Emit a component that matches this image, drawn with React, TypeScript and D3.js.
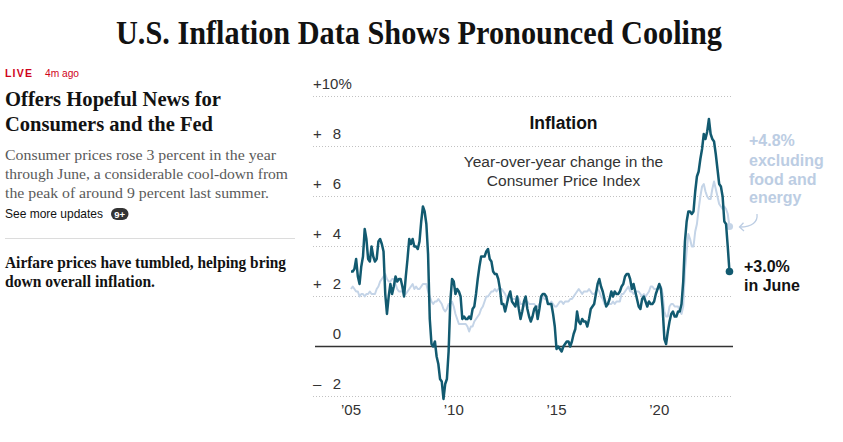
import React from 'react';
import * as d3 from 'd3';

// Monthly year-over-year change in CPI, January 2005 through June 2023
const START_YEAR = 2005;

const cpiAll = [
  3.0, 3.0, 3.1, 3.5, 2.8, 2.5, 3.2, 3.6, 4.7, 4.3, 3.5, 3.4,
  4.0, 3.6, 3.4, 3.5, 4.2, 4.3, 4.1, 3.8, 2.1, 1.3, 2.0, 2.5,
  2.1, 2.4, 2.8, 2.6, 2.7, 2.7, 2.4, 2.0, 2.8, 3.5, 4.3, 4.1,
  4.3, 4.0, 4.0, 3.9, 4.2, 5.0, 5.6, 5.4, 4.9, 3.7, 1.1, 0.1,
  0.0, 0.2, -0.4, -0.7, -1.3, -1.4, -2.1, -1.5, -1.3, -0.2, 1.8, 2.7,
  2.6, 2.1, 2.3, 2.2, 2.0, 1.1, 1.2, 1.1, 1.1, 1.2, 1.1, 1.5,
  1.6, 2.1, 2.7, 3.2, 3.6, 3.6, 3.6, 3.8, 3.9, 3.5, 3.4, 3.0,
  2.9, 2.9, 2.7, 2.3, 1.7, 1.7, 1.4, 1.7, 2.0, 2.2, 1.8, 1.7,
  1.6, 2.0, 1.5, 1.1, 1.4, 1.8, 2.0, 1.5, 1.2, 1.0, 1.2, 1.5,
  1.6, 1.1, 1.5, 2.0, 2.1, 2.1, 2.0, 1.7, 1.7, 1.7, 1.3, 0.8,
  -0.1, 0.0, -0.1, -0.2, 0.0, 0.1, 0.2, 0.2, 0.0, 0.2, 0.5, 0.7,
  1.4, 1.0, 0.9, 1.1, 1.0, 1.0, 0.8, 1.1, 1.5, 1.6, 1.7, 2.1,
  2.5, 2.7, 2.4, 2.2, 1.9, 1.6, 1.7, 1.9, 2.2, 2.0, 2.2, 2.1,
  2.1, 2.2, 2.4, 2.5, 2.8, 2.9, 2.9, 2.7, 2.3, 2.5, 2.2, 1.9,
  1.6, 1.5, 1.9, 2.0, 1.8, 1.6, 1.8, 1.7, 1.7, 1.8, 2.1, 2.3,
  2.5, 2.3, 1.5, 0.3, 0.1, 0.6, 1.0, 1.3, 1.4, 1.2, 1.2, 1.4,
  1.4, 1.7, 2.6, 4.2, 5.0, 5.4, 5.4, 5.3, 5.4, 6.2, 6.8, 7.0,
  7.5, 7.9, 8.5, 8.3, 8.6, 9.1, 8.5, 8.3, 8.2, 7.7, 7.1, 6.5,
  6.4, 6.0, 5.0, 4.9, 4.0, 3.0,
];

// Same measure excluding food and energy
const cpiCore = [
  2.3, 2.4, 2.3, 2.2, 2.2, 2.0, 2.1, 2.1, 2.0, 2.1, 2.1, 2.2,
  2.1, 2.1, 2.1, 2.3, 2.4, 2.6, 2.7, 2.8, 2.9, 2.7, 2.6, 2.6,
  2.7, 2.7, 2.5, 2.3, 2.2, 2.2, 2.2, 2.1, 2.1, 2.2, 2.3, 2.4,
  2.5, 2.3, 2.4, 2.3, 2.3, 2.4, 2.5, 2.5, 2.5, 2.2, 2.0, 1.8,
  1.7, 1.8, 1.8, 1.9, 1.8, 1.7, 1.5, 1.4, 1.5, 1.7, 1.7, 1.8,
  1.6, 1.3, 1.1, 0.9, 0.9, 0.9, 0.9, 0.9, 0.8, 0.6, 0.8, 0.8,
  1.0, 1.1, 1.2, 1.3, 1.5, 1.6, 1.8, 2.0, 2.0, 2.1, 2.2, 2.2,
  2.3, 2.2, 2.3, 2.3, 2.3, 2.2, 2.1, 1.9, 2.0, 2.0, 1.9, 1.9,
  1.9, 2.0, 1.9, 1.7, 1.7, 1.6, 1.7, 1.8, 1.7, 1.7, 1.7, 1.7,
  1.6, 1.6, 1.7, 1.8, 2.0, 1.9, 1.9, 1.7, 1.7, 1.8, 1.7, 1.6,
  1.6, 1.7, 1.8, 1.8, 1.7, 1.8, 1.8, 1.8, 1.9, 1.9, 2.0, 2.1,
  2.2, 2.3, 2.2, 2.1, 2.2, 2.2, 2.2, 2.3, 2.2, 2.1, 2.1, 2.2,
  2.3, 2.2, 2.0, 1.9, 1.7, 1.7, 1.7, 1.7, 1.7, 1.8, 1.7, 1.8,
  1.8, 1.8, 2.1, 2.1, 2.2, 2.3, 2.4, 2.2, 2.2, 2.1, 2.2, 2.2,
  2.2, 2.1, 2.0, 2.1, 2.0, 2.1, 2.2, 2.4, 2.4, 2.3, 2.3, 2.3,
  2.3, 2.4, 2.1, 1.4, 1.2, 1.2, 1.6, 1.7, 1.7, 1.6, 1.6, 1.6,
  1.4, 1.3, 1.6, 3.0, 3.8, 4.5, 4.3, 4.0, 4.0, 4.6, 4.9, 5.5,
  6.0, 6.4, 6.5, 6.2, 6.0, 5.9, 5.9, 6.3, 6.6, 6.3, 6.0, 5.7,
  5.6, 5.5, 5.6, 5.5, 5.3, 4.8,
];

const yTicks = [10, 8, 6, 4, 2, 0, -2];
const xTicks = [2005, 2010, 2015, 2020];
const xTickLabels = ['’05', '’10', '’15', '’20'];

const SANS = '"Liberation Sans", Arial, sans-serif';
const SERIF = '"Liberation Serif", "Times New Roman", serif';
const DARK = '#125a70';
const LIGHT = '#c4d4e7';
const LIGHT_TEXT = '#bccde3';

export default function App() {
  const W = 843;
  const H = 442;

  const x = d3.scaleLinear().domain([2005, 2025]).range([351, 762]);
  const y = d3.scaleLinear().domain([-2, 10]).range([396.5, 96.5]);
  const t = (i: number) => START_YEAR + i / 12;

  const line = d3
    .line<number>()
    .x((_, i) => x(t(i)))
    .y((d) => y(d));

  const lastAll = cpiAll[cpiAll.length - 1];
  const lastCore = cpiCore[cpiCore.length - 1];
  const xLastAll = x(t(cpiAll.length - 1));
  const xLastCore = x(t(cpiCore.length - 1));
  const fmt = (v: number) => `+${v.toFixed(1)}%`;

  const gridLeft = 313;
  const gridRight = 733;

  return (
    <svg
      width={W}
      height={H}
      viewBox={`0 0 ${W} ${H}`}
      style={{ position: 'absolute', left: 0, top: 0, background: '#fff' }}
    >
      {/* Page headline */}
      <text
        x={419}
        y={44}
        textAnchor="middle"
        fontFamily={SERIF}
        fontWeight="bold"
        fontSize={34}
        fill="#121212"
        textLength={606}
        lengthAdjust="spacingAndGlyphs"
      >
        U.S. Inflation Data Shows Pronounced Cooling
      </text>

      {/* Left column: live update */}
      <text x={5} y={77} fontFamily={SANS} fontWeight="bold" fontSize={10.5} fill="#d0021b" letterSpacing={1.2}>
        LIVE
      </text>
      <text x={45} y={77} fontFamily={SANS} fontSize={11} fill="#d0021b" textLength={34} lengthAdjust="spacingAndGlyphs">
        4m ago
      </text>

      <text x={5} y={106} fontFamily={SERIF} fontWeight="bold" fontSize={22} fill="#121212" textLength={216} lengthAdjust="spacingAndGlyphs">
        Offers Hopeful News for
      </text>
      <text x={5} y={131} fontFamily={SERIF} fontWeight="bold" fontSize={22} fill="#121212" textLength={208} lengthAdjust="spacingAndGlyphs">
        Consumers and the Fed
      </text>

      <text x={5} y={159.5} fontFamily={SERIF} fontSize={15.5} fill="#5a5a5a" textLength={271} lengthAdjust="spacingAndGlyphs">
        Consumer prices rose 3 percent in the year
      </text>
      <text x={5} y={178.5} fontFamily={SERIF} fontSize={15.5} fill="#5a5a5a" textLength={283} lengthAdjust="spacingAndGlyphs">
        through June, a considerable cool-down from
      </text>
      <text x={5} y={197.5} fontFamily={SERIF} fontSize={15.5} fill="#5a5a5a" textLength={264} lengthAdjust="spacingAndGlyphs">
        the peak of around 9 percent last summer.
      </text>

      <text x={5} y={218} fontFamily={SANS} fontSize={13} fill="#121212" textLength={98} lengthAdjust="spacingAndGlyphs">
        See more updates
      </text>
      <rect x={111} y={208} width={17.5} height={12} rx={6} fill="#333" />
      <text x={119.7} y={217.5} textAnchor="middle" fontFamily={SANS} fontWeight="bold" fontSize={9.5} fill="#fff">
        9+
      </text>

      <line x1={5} x2={295} y1={238.5} y2={238.5} stroke="#dcdcdc" strokeWidth={1} />

      <text x={5} y={268} fontFamily={SERIF} fontWeight="bold" fontSize={16} fill="#121212" textLength={281} lengthAdjust="spacingAndGlyphs">
        Airfare prices have tumbled, helping bring
      </text>
      <text x={5} y={287} fontFamily={SERIF} fontWeight="bold" fontSize={16} fill="#121212" textLength={150} lengthAdjust="spacingAndGlyphs">
        down overall inflation.
      </text>

      {/* Chart: gridlines */}
      {yTicks
        .filter((v) => v !== 0)
        .map((v) => (
          <line
            key={`g${v}`}
            x1={gridLeft}
            x2={gridRight}
            y1={y(v)}
            y2={y(v)}
            stroke="#c2c2c2"
            strokeWidth={1}
            strokeDasharray="1 2"
          />
        ))}

      {/* Y tick labels */}
      {yTicks.map((v) =>
        v === 10 ? (
          <text key={`l${v}`} x={gridLeft} y={y(v) - 8} fontFamily={SANS} fontSize={15} fill="#333">
            +10%
          </text>
        ) : (
          <g key={`l${v}`}>
            {v !== 0 && (
              <text x={gridLeft} y={y(v) - 8} fontFamily={SANS} fontSize={15} fill="#333">
                {v > 0 ? '+' : '–'}
              </text>
            )}
            <text x={341} y={y(v) - 8} textAnchor="end" fontFamily={SANS} fontSize={15} fill="#333">
              {Math.abs(v)}
            </text>
          </g>
        )
      )}

      {/* X tick labels */}
      {xTicks.map((yr, i) => (
        <text key={yr} x={x(yr)} y={415} textAnchor="middle" fontFamily={SANS} fontSize={15} fill="#333">
          {xTickLabels[i]}
        </text>
      ))}

      {/* Zero baseline */}
      <line x1={315} x2={gridRight} y1={y(0)} y2={y(0)} stroke="#333" strokeWidth={1.6} />

      {/* Core series */}
      <path d={line(cpiCore) ?? ''} fill="none" stroke={LIGHT} strokeWidth={2} strokeLinejoin="round" />
      <circle cx={xLastCore} cy={y(lastCore)} r={3.6} fill={LIGHT} />

      {/* Headline series */}
      <path d={line(cpiAll) ?? ''} fill="none" stroke={DARK} strokeWidth={2.5} strokeLinejoin="round" />
      <circle cx={xLastAll} cy={y(lastAll)} r={3.8} fill={DARK} />

      {/* Chart title */}
      <text x={563.5} y={129} textAnchor="middle" fontFamily={SANS} fontWeight="bold" fontSize={17.5} fill="#121212">
        Inflation
      </text>
      <text x={563.5} y={167} textAnchor="middle" fontFamily={SANS} fontSize={15.5} fill="#333">
        Year-over-year change in the
      </text>
      <text x={563.5} y={185.5} textAnchor="middle" fontFamily={SANS} fontSize={15.5} fill="#333">
        Consumer Price Index
      </text>

      {/* Core annotation */}
      <g fontFamily={SANS} fontWeight="bold" fontSize={16} fill={LIGHT_TEXT}>
        <text x={749} y={146}>{fmt(lastCore)}</text>
        <text x={749} y={165.5}>excluding</text>
        <text x={749} y={184.5}>food and</text>
        <text x={749} y={203}>energy</text>
      </g>
      <path
        d="M757,214 C758,222 752,227 740,227"
        fill="none"
        stroke={LIGHT_TEXT}
        strokeWidth={1.3}
      />
      <path d="M743.5,222.8 L739.5,227 L744,231" fill="none" stroke={LIGHT_TEXT} strokeWidth={1.3} />

      {/* Headline annotation */}
      <g fontFamily={SANS} fontWeight="bold" fontSize={16} fill="#121212">
        <text x={744} y={272}>{fmt(lastAll)}</text>
        <text x={744} y={291}>in June</text>
      </g>
    </svg>
  );
}
